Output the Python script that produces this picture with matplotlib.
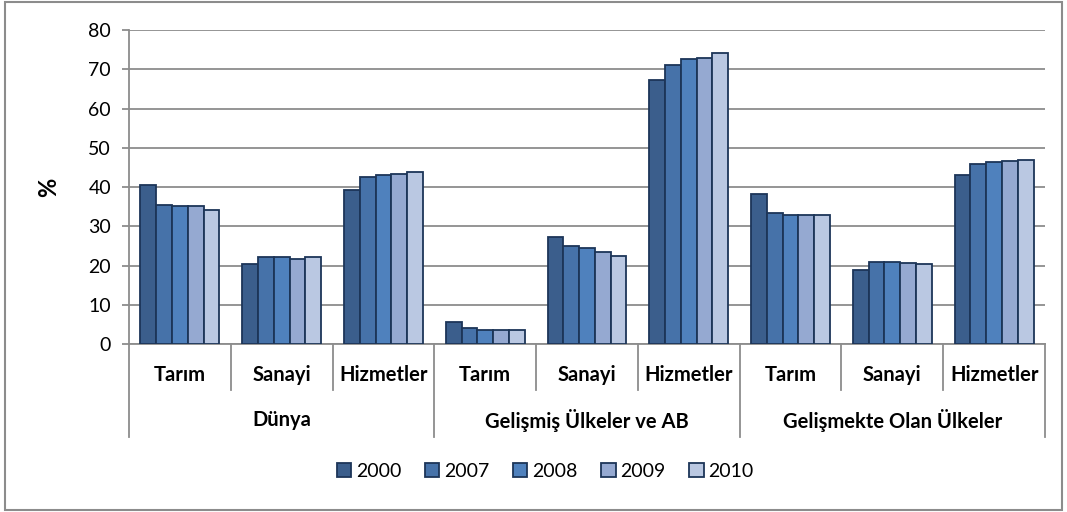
import numpy as np
from matplotlib import pyplot as plt
from matplotlib.patches import Rectangle

plt.rcParams['font.family'] = ['Lato', 'DejaVu Sans']

years = ["2000", "2007", "2008", "2009", "2010"]
sectors = ["Tarım", "Sanayi", "Hizmetler"]
regions = ["Dünya", "Gelişmiş Ülkeler ve AB", "Gelişmekte Olan Ülkeler"]

# rows: Dünya (Tarım, Sanayi, Hizmetler), Gelişmiş, Gelişmekte ; columns: years
v2000 = [40.5, 20.5, 39.2, 5.5, 27.3, 67.3, 38.3, 19.0, 43.0]
v2007 = [35.5, 22.1, 42.5, 4.0, 25.0, 71.2, 33.5, 20.8, 46.0]
v2008 = [35.1, 22.1, 43.0, 3.6, 24.6, 72.7, 33.0, 20.8, 46.3]
v2009 = [35.1, 21.8, 43.3, 3.6, 23.4, 72.8, 32.8, 20.6, 46.6]
v2010 = [34.1, 22.1, 43.8, 3.6, 22.4, 74.2, 32.8, 20.3, 46.8]

colors = ["#3B5E8C", "#4672A9", "#4F81BD", "#95A9D1", "#BAC8E2"]
edge = "#1C3558"
grid_c = "#8C8C8C"

fig = plt.figure(figsize=(10.67, 5.12), dpi=100)
ax = fig.add_axes([0.1209, 0.328, 0.8585, 0.613])

x = np.arange(len(v2000))
w = 0.155
series = [v2000, v2007, v2008, v2009, v2010]
for i, (vals, year) in enumerate(zip(series, years)):
    ax.bar(x + (i - 2) * w, vals, w, color=colors[i], edgecolor=edge,
           linewidth=1.3, label=year, zorder=3)

ax.set_xlim(-0.5, len(x) - 0.5)
ax.set_ylim(0, 80)
ax.set_yticks(range(0, 81, 10))
ax.yaxis.grid(True, color=grid_c, linewidth=1.3, zorder=0)
ax.set_xticks([])
for s in ["top", "right"]:
    ax.spines[s].set_visible(False)
for s in ["left", "bottom"]:
    ax.spines[s].set_color(grid_c)
    ax.spines[s].set_linewidth(1.3)
ax.tick_params(axis="y", length=5, color=grid_c, width=1.3, labelsize=14, pad=8)
ax.set_ylabel("%", fontsize=17, fontweight="bold", labelpad=20)

# multi-level category axis
trans = ax.get_xaxis_transform()
h_in = 46 / 314.0
h_out = 93 / 314.0
for b in np.arange(-0.5, len(x), 1.0):
    is_group = (b + 0.5) % 3 == 0
    ax.plot([b, b], [0, -(h_out if is_group else h_in)], color=grid_c,
            linewidth=1.3, transform=trans, clip_on=False)
for i in x:
    ax.text(i, -31 / 314.0, sectors[i % 3], transform=trans, ha="center",
            va="center", fontsize=14.5, fontweight="bold")
for g, name in enumerate(regions):
    ax.text(g * 3 + 1, -76 / 314.0, name, transform=trans, ha="center",
            va="center", fontsize=14.5, fontweight="bold")

fig.legend(loc="center", bbox_to_anchor=(0.511, 0.080), ncol=5, frameon=False,
           fontsize=14, handlelength=0.75, handleheight=0.75,
           handletextpad=0.25, columnspacing=1.2)

fig.patches.append(Rectangle((0.005, 0.004), 0.99, 0.992, transform=fig.transFigure,
                             fill=False, edgecolor=grid_c, linewidth=1.5))

fig.savefig("out.png", dpi=100)
